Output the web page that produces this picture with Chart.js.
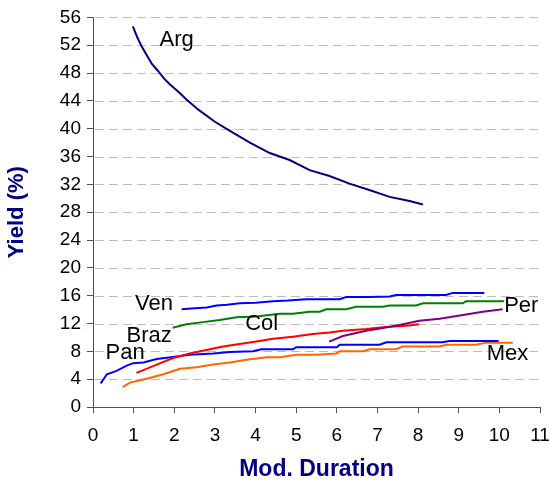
<!DOCTYPE html>
<html lang="en">
<head>
    <meta charset="UTF-8">
    <title>Yield vs Modified Duration</title>
    <script src="https://cdn.jsdelivr.net/npm/chart.js"></script>
    <style>
        body {
            margin: 0;
            background: #ffffff;
        }
        #wrap {
            width: 550px;
            height: 487px;
        }
    </style>
</head>
<body>
<div id="wrap"><canvas id="curves"></canvas></div>

<script>
// yield curves by country: modified duration (x) vs yield % (y)
const argDur = [0.98, 1.1, 1.2, 1.32, 1.45, 1.6, 1.75, 1.89, 2.1, 2.3, 2.6, 3.0, 3.37, 3.86, 4.35, 4.84, 5.33, 5.82, 6.31, 6.8, 7.3, 7.79, 8.12];
const argYld = [54.7, 53.0, 51.8, 50.6, 49.3, 48.3, 47.2, 46.4, 45.3, 44.2, 42.7, 41.0, 39.7, 38.0, 36.5, 35.5, 34.05, 33.2, 32.1, 31.2, 30.2, 29.6, 29.1];

const venDur = [2.18, 2.5, 2.8, 3.04, 3.3, 3.61, 4.0, 4.43, 4.8, 5.25, 5.6, 6.07, 6.23, 6.8, 7.3, 7.46, 8.0, 8.69, 8.85, 9.3, 9.63];
const venYld = [14.05, 14.2, 14.3, 14.6, 14.7, 14.9, 15.0, 15.2, 15.3, 15.5, 15.5, 15.5, 15.8, 15.8, 15.9, 16.1, 16.1, 16.1, 16.4, 16.4, 16.4];

const colDur = [1.96, 2.3, 2.7, 3.12, 3.53, 4.02, 4.6, 4.92, 5.33, 5.58, 5.74, 6.23, 6.48, 7.13, 7.3, 7.95, 8.12, 9.1, 9.18, 10.12];
const colYld = [11.4, 11.9, 12.2, 12.5, 12.9, 13.0, 13.4, 13.4, 13.7, 13.7, 14.05, 14.05, 14.4, 14.4, 14.6, 14.6, 14.9, 14.9, 15.2, 15.2];

const perDur = [5.81, 6.15, 6.72, 7.1, 7.54, 8.03, 8.53, 9.18, 9.59, 10.08];
const perYld = [9.4, 10.2, 10.95, 11.3, 11.8, 12.4, 12.7, 13.3, 13.7, 14.05];

const brazDur = [1.07, 1.57, 1.97, 2.38, 2.79, 3.2, 3.61, 4.02, 4.43, 4.92, 5.41, 5.82, 6.15, 6.72, 7.2, 7.79, 8.02];
const brazYld = [4.9, 6.1, 7.05, 7.7, 8.2, 8.7, 9.05, 9.4, 9.8, 10.1, 10.5, 10.7, 10.95, 11.2, 11.5, 11.7, 11.9];

const panDur = [0.19, 0.34, 0.58, 0.83, 0.99, 1.24, 1.57, 1.97, 2.38, 2.96, 3.37, 3.94, 4.14, 4.92, 5.0, 6.0, 6.07, 7.05, 7.22, 8.6, 8.77, 9.98];
const panYld = [3.4, 4.7, 5.2, 5.95, 6.3, 6.4, 6.9, 7.2, 7.5, 7.7, 7.9, 8.0, 8.3, 8.3, 8.6, 8.6, 8.95, 8.95, 9.3, 9.3, 9.5, 9.5];

const mexDur = [0.73, 0.91, 1.32, 1.73, 2.14, 2.55, 2.96, 3.37, 3.78, 4.27, 4.6, 5.0, 5.5, 5.99, 6.07, 6.64, 6.8, 7.46, 7.62, 8.53, 8.69, 9.43, 9.67, 10.33];
const mexYld = [2.85, 3.5, 4.05, 4.7, 5.5, 5.7, 6.1, 6.4, 6.8, 7.15, 7.15, 7.5, 7.5, 7.7, 8.0, 8.0, 8.3, 8.3, 8.7, 8.7, 8.95, 8.95, 9.25, 9.25];

// name tags placed next to each curve (data coordinates)
const tagNames = ['Arg', 'Ven', 'Col', 'Per', 'Braz', 'Pan', 'Mex'];
const tagDur = [2.06, 1.5, 4.15, 10.54, 1.38, 0.79, 10.2];
const tagYld = [52.8, 14.8, 12.0, 14.5, 10.2, 7.8, 7.6];

const yStep = 4;
const xStep = 1;

function toPoints(xs, ys) {
    return xs.map((x, i) => ({ x: x, y: ys[i] }));
}

function series(label, xs, ys, color) {
    return {
        label: label,
        data: toPoints(xs, ys),
        borderColor: color,
        backgroundColor: color,
        borderWidth: 2,
        pointRadius: 0,
        tension: 0,
        showLine: true,
        fill: false
    };
}

const navy = '#000080';
const axisGrey = '#505050';
const gridGrey = '#bcbcbc';
const fontFamily = '"Liberation Sans", Arial, sans-serif';

// dashed horizontal grid at each y tick
const dashedGrid = {
    id: 'dashedGrid',
    beforeDatasetsDraw(chart) {
        const { ctx, chartArea, scales } = chart;
        ctx.save();
        ctx.strokeStyle = gridGrey;
        ctx.lineWidth = 1;
        ctx.setLineDash([9, 5]);
        scales.y.ticks.forEach(t => {
            if (t.value === 0) return;
            const py = Math.round(scales.y.getPixelForValue(t.value)) + 0.5;
            ctx.beginPath();
            ctx.moveTo(chartArea.left + 2, py);
            ctx.lineTo(chartArea.right, py);
            ctx.stroke();
        });
        ctx.restore();
    }
};

const tagPlugin = {
    id: 'curveTags',
    afterDatasetsDraw(chart) {
        const { ctx, scales } = chart;
        ctx.save();
        ctx.font = '22px ' + fontFamily;
        ctx.fillStyle = '#000000';
        ctx.textAlign = 'center';
        ctx.textBaseline = 'middle';
        tagNames.forEach((name, i) => {
            ctx.fillText(name, scales.x.getPixelForValue(tagDur[i]), scales.y.getPixelForValue(tagYld[i]));
        });
        ctx.restore();
    }
};

// keep the plot frame fixed regardless of tick label overhang
function fixPadding(scale) {
    scale.paddingLeft = 0;
    scale.paddingRight = 0;
}

const ctx = document.getElementById('curves').getContext('2d');
new Chart(ctx, {
    type: 'scatter',
    data: {
        datasets: [
            series('Arg', argDur, argYld, navy),
            series('Ven', venDur, venYld, '#0000ff'),
            series('Col', colDur, colYld, '#008000'),
            series('Per', perDur, perYld, '#800080'),
            series('Braz', brazDur, brazYld, '#ff0000'),
            series('Pan', panDur, panYld, '#0000ff'),
            series('Mex', mexDur, mexYld, '#ff6600')
        ]
    },
    options: {
        responsive: true,
        maintainAspectRatio: false,
        animation: false,
        layout: {
            padding: { top: 12, right: 10, left: 0, bottom: 0 }
        },
        plugins: {
            legend: { display: false },
            tooltip: { enabled: false }
        },
        scales: {
            x: {
                type: 'linear',
                min: 0,
                max: 11,
                afterFit: scale => { scale.height = 80; fixPadding(scale); },
                ticks: {
                    stepSize: xStep,
                    color: '#000000',
                    padding: 11,
                    font: { family: fontFamily, size: 19 }
                },
                grid: {
                    drawOnChartArea: false,
                    drawTicks: true,
                    tickLength: 6,
                    tickColor: axisGrey
                },
                border: { color: axisGrey, width: 1 },
                title: {
                    display: true,
                    text: 'Mod. Duration',
                    color: navy,
                    padding: { top: 0 },
                    font: { family: fontFamily, size: 23, weight: 'bold' }
                }
            },
            y: {
                type: 'linear',
                min: 0,
                max: 56,
                afterFit: scale => { scale.width = 93; },
                ticks: {
                    stepSize: yStep,
                    color: '#000000',
                    padding: 6,
                    font: { family: fontFamily, size: 19 }
                },
                grid: {
                    drawOnChartArea: false,
                    drawTicks: true,
                    tickLength: 6,
                    tickColor: axisGrey
                },
                border: { color: axisGrey, width: 1 },
                title: {
                    display: true,
                    text: 'Yield (%)',
                    color: navy,
                    padding: { bottom: 4 },
                    font: { family: fontFamily, size: 22, weight: 'bold' }
                }
            }
        }
    },
    plugins: [dashedGrid, tagPlugin]
});
</script>
</body>
</html>
